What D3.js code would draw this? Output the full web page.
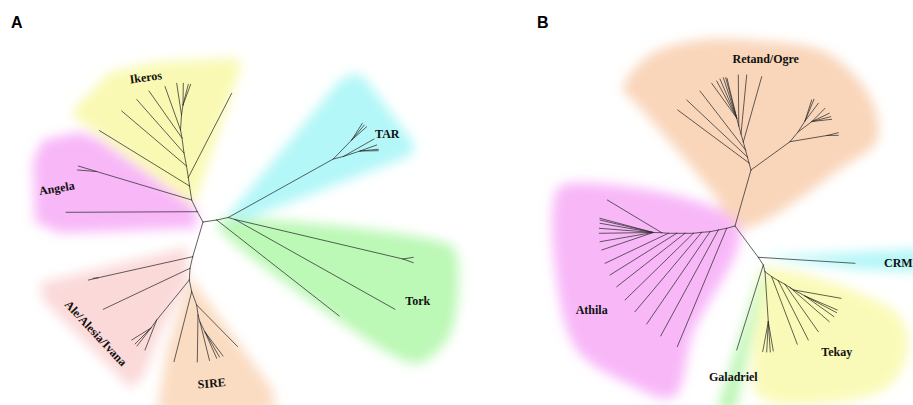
<!DOCTYPE html>
<html>
<head>
<meta charset="utf-8">
<script src="https://cdn.jsdelivr.net/npm/d3@7"></script>
<style>
  body { margin: 0; background: #fff; }
  svg { display: block; }
  .clade { font-family: "Liberation Serif", "Times New Roman", serif; font-weight: bold; font-size: 12px; fill: #111; }
  .panel { font-family: "Liberation Sans", Arial, sans-serif; font-weight: bold; font-size: 16px; fill: #000; }
</style>
</head>
<body>
<svg id="chart" width="913" height="405"></svg>
<script>

// tree A (Ty1/copia) -- [node, parent, x, y], positions relative to root
let nodesA = [
  ["A0", null, 0, 0],
  ["a1", "A0", 13.7, -2], ["a2", "a1", 25.3, -4.5], ["a3", "a2", 32, -2.5],
  ["tar0", "a2", 130.3, -63], ["tar1", "tar0", 148.7, -82],
  ["t1", "tar1", 159.3, -98.7], ["t2", "tar1", 161.3, -97], ["t3", "tar1", 163.7, -95.3],
  ["tar2", "tar0", 140.3, -65.5], ["t4", "tar2", 171, -83], ["tar3", "tar2", 157, -71],
  ["t5", "tar3", 173.7, -77], ["t6", "tar3", 175.3, -72.7], ["t7", "tar3", 175.3, -71.3],
  ["k1", "a1", 136.3, 94], ["k2", "a3", 192, 87.3], ["tk1", "a3", 200, 37],
  ["k3", "tk1", 210.3, 35.3], ["k4", "tk1", 210.3, 40.7],
  ["b1", "A0", -5.7, -10.3], ["g1", "b1", -137, -9.7],
  ["b2", "b1", -11.3, -22], ["ang0", "b2", -106.5, -50.5],
  ["g2", "ang0", -124.7, -56], ["g3", "ang0", -125.5, -52],
  ["b3", "b2", -13.5, -36], ["i1", "b3", -103.7, -91.5],
  ["b4", "b3", -14.7, -44.5], ["i2", "b4", 28.7, -128.7],
  ["b5", "b4", -16.5, -56], ["i3", "b5", -81.3, -111],
  ["b6", "b5", -19, -69], ["i4", "b6", -66.3, -122.5],
  ["b7", "b6", -21, -84], ["i5", "b7", -54, -131],
  ["b8", "b7", -22.5, -92], ["i6", "b8", -38, -135.5],
  ["b9", "b8", -21.5, -107], ["i7", "b9", -26.3, -138.7],
  ["b10", "b9", -20, -117], ["i8", "b10", -19.7, -138.7], ["i9", "b10", -14.7, -137.7], ["i10", "b10", -12.3, -137.7],
  ["c1", "A0", -10.3, 34.7], ["c1a", "c1", -105, 55.8], ["e1", "c1a", -114.7, 58.1], ["e2", "c1a", -110, 56.3],
  ["c2", "c1", -13, 46.3], ["e3", "c2", -99.7, 87.3],
  ["c3", "c2", -13.7, 58], ["c4", "c3", -46.3, 98], ["e4", "c4", -58, 128],
  ["c4a", "c4", -52, 106], ["e5", "c4a", -71.3, 118], ["e6", "c4a", -68, 122], ["e7", "c4a", -66, 124],
  ["c5", "c3", -11.3, 69.7], ["s1", "c5", -29, 139.7],
  ["c6", "c5", -6.3, 83], ["s2", "c6", 34.5, 124.5],
  ["c7", "c6", -5, 93], ["s3", "c7", -5.7, 140],
  ["c8", "c7", -3, 100], ["s4", "c8", 6.5, 138.5],
  ["c9", "c8", 2, 110], ["s5", "c9", 13.7, 136.3], ["s6", "c9", 16.5, 135], ["s7", "c9", 20, 134]
];

// tree B (Ty3/gypsy)
let nodesB = [
  ["B0", null, 0, 0],
  ["r1", "B0", 16, -56], ["r2", "r1", 55, -84.3], ["r3", "r2", 63, -94],
  ["r3a", "r3", 70, -105], ["o1", "r3a", 76.7, -126], ["o2", "r3a", 79, -126.7], ["o3", "r3a", 83.3, -122.7],
  ["r3b", "r3", 77, -104.5], ["o4", "r3b", 90, -117.7], ["o5", "r3b", 94.3, -112.7], ["o6", "r3b", 95.7, -109.3], ["o7", "r3b", 96.7, -106.7],
  ["r4", "r2", 92, -90.5], ["o8", "r4", 103.3, -93.3], ["o9", "r4", 103.3, -90.7],
  ["l1", "r1", 14, -63], ["o10", "l1", -57.3, -116],
  ["l2", "l1", 12.4, -69], ["o11", "l2", -48.3, -126],
  ["l3", "l2", 10.5, -76], ["o12", "l3", -35, -135],
  ["l4", "l3", 8.3, -84], ["o13", "l4", 26.7, -149.3],
  ["l5", "l4", 6, -92], ["o14", "l5", 11.7, -151],
  ["l6", "l5", 3.8, -100], ["o15", "l6", 3.3, -151],
  ["l7", "l6", 1.7, -108], ["o16", "l7", -23.3, -142.7], ["o17", "l7", -18.3, -145], ["o18", "l7", -15, -147],
  ["o19", "l7", -11.7, -148.3], ["o20", "l7", -9.3, -148.3], ["o21", "l7", -8, -147.7],
  ["s0", "B0", -8.3, 2.3], ["h0", "s0", -57.7, 120.7],
  ["s1", "s0", -16.7, 4], ["h1", "s1", -74.3, 110],
  ["s2", "s1", -25, 5.7], ["h2", "s2", -88.3, 98],
  ["s3", "s2", -33.3, 6.3], ["h3", "s3", -100, 85.7],
  ["s4", "s3", -41.7, 7.3], ["h4", "s4", -110, 74],
  ["s5", "s4", -50, 7.3], ["h5", "s5", -118.3, 60.7],
  ["s6", "s5", -58.3, 7.3], ["h6", "s6", -125, 49],
  ["s7", "s6", -66.7, 7.3], ["h7", "s7", -130, 37.3],
  ["s8", "s7", -73.3, 6.7], ["h8", "s8", -127.7, -26],
  ["s9", "s8", -81.7, 6.5], ["h9", "s9", -135, -7.7], ["h10", "s9", -135, -6], ["h11", "s9", -135, -2.7],
  ["h12", "s9", -135.7, 2.3], ["h13", "s9", -135.7, 7.3], ["h14", "s9", -135, 15.7], ["h15", "s9", -133.3, 24],
  ["c0", "B0", 23.3, 31.3], ["crm", "c0", 120, 37.3],
  ["g0", "c0", 28.3, 39], ["gal", "g0", 1.7, 124],
  ["tk0", "g0", 30, 45.7],
  ["tkv", "tk0", 33.3, 95.7], ["y1", "tkv", 27.7, 125.7], ["y2", "tkv", 31.7, 126], ["y3", "tkv", 35.3, 126], ["y4", "tkv", 38.3, 125],
  ["sA", "tk0", 36.7, 50.7], ["y5", "sA", 62.3, 118.3],
  ["sB", "sA", 43.3, 54.7], ["y6", "sB", 73.3, 114],
  ["sC", "sB", 50, 58.3], ["y7", "sC", 83.3, 105.7],
  ["sD", "sC", 55, 61.5], ["y8", "sD", 94.3, 95.7],
  ["sE", "sD", 59, 64], ["y9", "sE", 106, 72.3],
  ["sF", "sE", 70, 70], ["y10", "sF", 99, 90.7], ["y11", "sF", 101.7, 86.7], ["y12", "sF", 102.3, 84]
];

// outline of each shaded clade
let regionsA = [
  ["Ikeros", [[-130,-112],[-93,-150],[-46,-160],[35,-164],[38,-155],[-8,-20],[-14,-20],[-130,-106]]],
  ["Angela", [[-170,-62],[-160,-82],[-123,-90],[-103,-82],[-7,-14],[-6,6],[-143,11],[-168,0]]],
  ["TAR", [[23,-4],[137,-142],[152,-149],[162,-144],[212,-77],[207,-66],[29,3]]],
  ["Tork", [[17,-1],[245,22],[253,30],[247,113],[217,141],[202,139],[132,96],[15,4]]],
  ["Ale", [[-163,61],[-15,25],[-16,58],[-43,111],[-60,155],[-73,166],[-160,78]]],
  ["SIRE", [[-13,55],[70,168],[72,190],[-46,190],[-36,128],[-16,65]]]
];
let regionsB = [
  ["Retand", [[-112,-136],[-88,-169],[-42,-185],[25,-185],[92,-173],[135,-129],[142,-86],[108,-59],[3,2],[-22,-33],[-102,-126]]],
  ["Athila", [[-178,-36],[-162,-43],[3,-1],[-42,107],[-62,171],[-108,157],[-158,124],[-178,57]]],
  ["CRM", [[25,31],[185,23],[185,46],[125,43]]],
  ["Galadriel", [[28,39],[-18,185],[0,185],[31,42]]],
  ["Tekay", [[30,44],[158,84],[172,107],[168,141],[142,167],[25,171],[18,127],[27,64]]]
];

let labelsA = [
  ["Ikeros", -57.3, -144.7, -8], ["Angela", -146.3, -33.7, -10], ["TAR", 184.3, -87.7, 0],
  ["Tork", 214.7, 79, 0], ["Ale/Alesia/Ivana", -107.2, 111.3, 47], ["SIRE", 8.7, 161.3, -5]
];
let labelsB = [
  ["Retand/Ogre", 30.7, -166.7, 0], ["Athila", -143.3, 84, 0], ["CRM", 163.3, 37.3, 0],
  ["Tekay", 101.7, 126.3, 0], ["Galadriel", -1.7, 151.3, 0]
];


var fills = {
  Ikeros: "#f9f9b4", Angela: "#f8b8f8", TAR: "#b4f7f8", Tork: "#bcf8b6", Ale: "#fbd9d9", SIRE: "#fadcc2",
  Retand: "#f9d5ba", Athila: "#f8b8f8", CRM: "#b4f6f8", Galadriel: "#baf6b2", Tekay: "#fafab8"
};
// these blobs have rounded outlines in the figure
var rounded = ["Tork", "Retand", "Athila", "Tekay"];

var panels = [
  { letter: "A", lx: 11, nodes: nodesA, regions: regionsA, labels: labelsA, xd: [-200, 250], xr: [3, 453], yd: [-220, 183], yr: [2, 405] },
  { letter: "B", lx: 537, nodes: nodesB, regions: regionsB, labels: labelsB, xd: [-200, 180], xr: [535, 915], yd: [-226, 179], yr: [0, 405] }
];

var svg = d3.select("#chart");

svg.append("defs").append("filter")
  .attr("id", "soft")
  .attr("x", "-20%").attr("y", "-20%").attr("width", "140%").attr("height", "140%")
  .append("feGaussianBlur")
  .attr("stdDeviation", 6);

panels.forEach(function(p) {
  var x = d3.scaleLinear().domain(p.xd).range(p.xr);
  var y = d3.scaleLinear().domain(p.yd).range(p.yr);
  var g = svg.append("g");

  var sharp = d3.line().x(function(d) { return x(d[0]); }).y(function(d) { return y(d[1]); }).curve(d3.curveLinearClosed);
  var soft = d3.line().x(function(d) { return x(d[0]); }).y(function(d) { return y(d[1]); }).curve(d3.curveCatmullRomClosed.alpha(0.5));

  g.append("g").attr("filter", "url(#soft)")
    .selectAll("path")
    .data(p.regions)
    .enter().append("path")
    .attr("d", function(d) { return rounded.indexOf(d[0]) > -1 ? soft(d[1]) : sharp(d[1]); })
    .attr("fill", function(d) { return fills[d[0]]; });

  //look up parent of each node, draw the branch
  var byId = {};
  p.nodes.forEach(function(n) { byId[n[0]] = n; });
  var links = p.nodes.filter(function(n) { return n[1] !== null; });

  g.append("g")
    .selectAll("line")
    .data(links)
    .enter().append("line")
    .attr("x1", function(d) { return x(byId[d[1]][2]); })
    .attr("y1", function(d) { return y(byId[d[1]][3]); })
    .attr("x2", function(d) { return x(d[2]); })
    .attr("y2", function(d) { return y(d[3]); })
    .attr("stroke", "#2e2e2e")
    .attr("stroke-width", 0.75)
    .attr("stroke-linecap", "round");

  g.append("g")
    .selectAll("text")
    .data(p.labels)
    .enter().append("text")
    .attr("class", "clade")
    .attr("text-anchor", "middle")
    .attr("dominant-baseline", "central")
    .attr("transform", function(d) { return "translate(" + x(d[1]) + "," + y(d[2]) + ") rotate(" + d[3] + ")"; })
    .text(function(d) { return d[0]; });

  svg.append("text").attr("class", "panel").attr("x", p.lx).attr("y", 28).text(p.letter);
});

</script>
</body>
</html>
